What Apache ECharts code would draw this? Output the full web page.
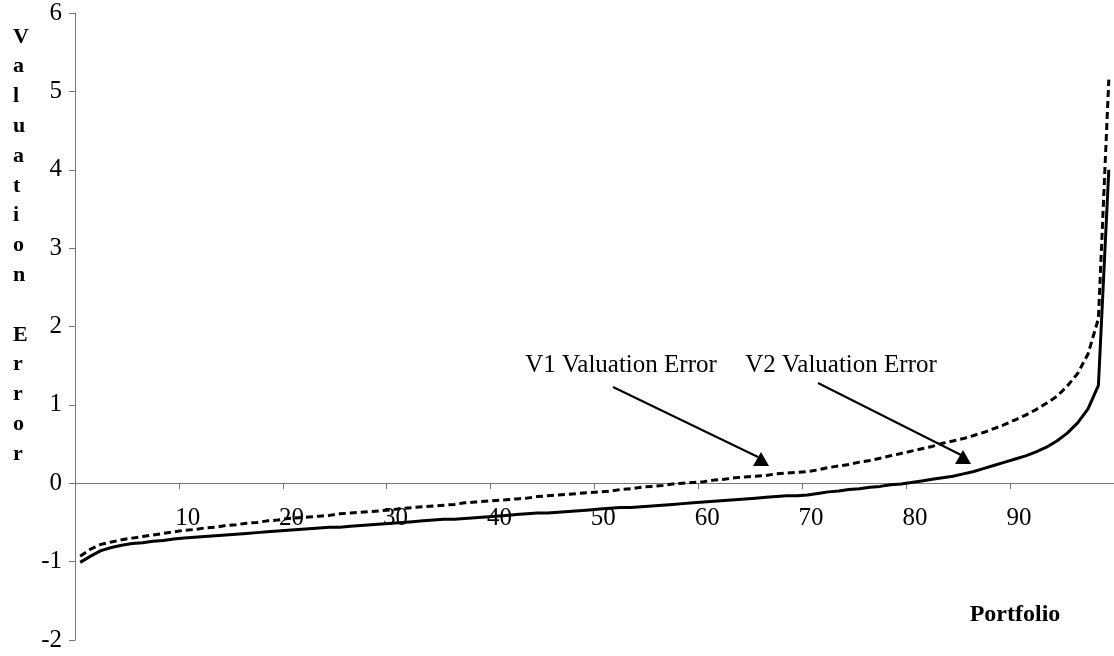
<!DOCTYPE html>
<html>
<head>
<meta charset="utf-8">
<script src="https://cdn.jsdelivr.net/npm/echarts@6/dist/echarts.min.js"></script>
<style>
html,body{margin:0;padding:0;background:#fff;}
#c{width:1114px;height:656px;}
</style>
</head>
<body>
<div id="c"></div>
<script>
// Portfolio numbers 1..100
var portfolios = [];
for (var p = 1; p <= 100; p++) portfolios.push(String(p));

// V1 valuation error (dashed line)
var v1Error = [
 -0.93,-0.84,-0.78,-0.75,-0.72,-0.70,-0.68,-0.66,-0.64,-0.62,
 -0.60,-0.59,-0.57,-0.56,-0.54,-0.53,-0.51,-0.50,-0.48,-0.47,
 -0.45,-0.44,-0.43,-0.42,-0.41,-0.39,-0.38,-0.37,-0.36,-0.35,
 -0.34,-0.32,-0.31,-0.30,-0.29,-0.28,-0.27,-0.25,-0.24,-0.23,
 -0.22,-0.21,-0.20,-0.19,-0.17,-0.16,-0.15,-0.14,-0.13,-0.12,
 -0.11,-0.10,-0.08,-0.07,-0.05,-0.04,-0.03,-0.01,0.00,0.01,
 0.02,0.04,0.05,0.07,0.08,0.09,0.10,0.12,0.13,0.14,
 0.15,0.17,0.20,0.22,0.24,0.27,0.29,0.32,0.35,0.38,
 0.41,0.44,0.47,0.51,0.54,0.57,0.61,0.65,0.70,0.75,
 0.81,0.87,0.94,1.02,1.11,1.24,1.40,1.65,2.10,5.15
];

// V2 valuation error (solid line)
var v2Error = [
 -1.01,-0.93,-0.86,-0.82,-0.79,-0.77,-0.76,-0.74,-0.73,-0.71,
 -0.70,-0.69,-0.68,-0.67,-0.66,-0.65,-0.64,-0.63,-0.62,-0.61,
 -0.60,-0.59,-0.58,-0.57,-0.56,-0.56,-0.55,-0.54,-0.53,-0.52,
 -0.51,-0.50,-0.49,-0.48,-0.47,-0.46,-0.46,-0.45,-0.44,-0.43,
 -0.42,-0.41,-0.40,-0.39,-0.38,-0.38,-0.37,-0.36,-0.35,-0.34,
 -0.33,-0.32,-0.31,-0.31,-0.30,-0.29,-0.28,-0.27,-0.26,-0.25,
 -0.24,-0.23,-0.22,-0.21,-0.20,-0.19,-0.18,-0.17,-0.16,-0.16,
 -0.15,-0.13,-0.11,-0.10,-0.08,-0.07,-0.05,-0.04,-0.02,-0.01,
 0.01,0.03,0.05,0.07,0.09,0.12,0.15,0.19,0.23,0.27,
 0.31,0.35,0.40,0.46,0.54,0.64,0.77,0.95,1.25,4.00
];

var yMin = -2, yMax = 6;
var yTickLabels = ['-2','-1','0','1','2','3','4','5','6'];
var xLabelEvery = 10;

var serif = '"Liberation Serif", "Times New Roman", serif';
var gridTop = 13, gridHeight = 627;
// place the category axis on the value 0
var zeroOffset = -gridHeight * (0 - yMin) / (yMax - yMin);

var chart = echarts.init(document.getElementById('c'), null, {renderer: 'canvas'});
chart.setOption({
  animation: false,
  backgroundColor: '#ffffff',
  grid: {left: 75, top: gridTop, width: 1043, height: gridHeight, containLabel: false},
  xAxis: {
    type: 'category',
    data: portfolios,
    boundaryGap: true,
    position: 'bottom',
    offset: zeroOffset,
    axisLine: {onZero: false, lineStyle: {color: '#777', width: 1}},
    axisTick: {
      show: true, length: 6, inside: false,
      lineStyle: {color: '#777'},
      interval: function (i) { return i % xLabelEvery === 0; }
    },
    axisLabel: {
      interval: function (i) { return (i + 1) % xLabelEvery === 0 && i < 95; },
      color: '#000', fontFamily: serif, fontSize: 25, margin: 23,
      padding: [0, 0, 0, 28]
    },
    splitLine: {show: false}
  },
  yAxis: {
    type: 'value',
    min: yMin, max: yMax, interval: 1,
    axisLine: {show: true, onZero: false, lineStyle: {color: '#777', width: 1}},
    axisTick: {show: true, length: 6, inside: false, lineStyle: {color: '#777'}},
    axisLabel: {
      color: '#000', fontFamily: serif, fontSize: 25, margin: 13,
      formatter: function (v) { var s = String(v); return yTickLabels.indexOf(s) >= 0 ? s : ''; }
    },
    splitLine: {show: false}
  },
  series: [
    {
      name: 'V1 Valuation Error', type: 'line', data: v1Error,
      showSymbol: false, smooth: false,
      lineStyle: {color: '#000', width: 3, type: [7, 4]}
    },
    {
      name: 'V2 Valuation Error', type: 'line', data: v2Error,
      showSymbol: false, smooth: false,
      lineStyle: {color: '#000', width: 3, type: 'solid'}
    }
  ],
  graphic: [
    {
      type: 'text', left: 13, top: 22,
      style: {
        text: 'V\na\nl\nu\na\nt\ni\no\nn\n \nE\nr\nr\no\nr',
        font: 'bold 22px ' + serif, lineHeight: 29.8, fill: '#000', textAlign: 'left'
      }
    },
    {
      type: 'text', x: 1015, y: 615,
      style: {text: 'Portfolio', font: 'bold 24px ' + serif, fill: '#000', textAlign: 'center', textVerticalAlign: 'middle'}
    },
    {
      type: 'text', x: 621, y: 365,
      style: {text: 'V1 Valuation Error', font: '25px ' + serif, fill: '#000', textAlign: 'center', textVerticalAlign: 'middle'}
    },
    {
      type: 'text', x: 841, y: 365,
      style: {text: 'V2 Valuation Error', font: '25px ' + serif, fill: '#000', textAlign: 'center', textVerticalAlign: 'middle'}
    },
    {type: 'line', shape: {x1: 613, y1: 387, x2: 758, y2: 457}, style: {stroke: '#000', lineWidth: 2}},
    {type: 'polygon', shape: {points: [[753, 466], [769, 466], [761, 452]]}, style: {fill: '#000'}},
    {type: 'line', shape: {x1: 818, y1: 383, x2: 961, y2: 455}, style: {stroke: '#000', lineWidth: 2}},
    {type: 'polygon', shape: {points: [[955, 464], [971, 464], [963, 450]]}, style: {fill: '#000'}}
  ]
});
</script>
</body>
</html>
